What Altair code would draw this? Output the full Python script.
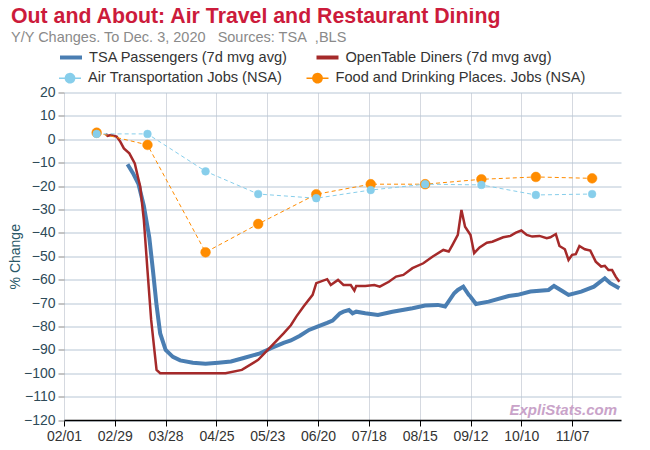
import altair as alt
import pandas as pd

FONT = "Liberation Sans"

# ---------------- data ----------------
tsa_dates = ["2020-03-07", "2020-03-10", "2020-03-13", "2020-03-16", "2020-03-19", "2020-03-21",
             "2020-03-23", "2020-03-25", "2020-03-28", "2020-04-01", "2020-04-05", "2020-04-12",
             "2020-04-19", "2020-04-26", "2020-05-03", "2020-05-10", "2020-05-19", "2020-05-26",
             "2020-06-01", "2020-06-05", "2020-06-10", "2020-06-15", "2020-06-20", "2020-06-25",
             "2020-06-28", "2020-07-02", "2020-07-04", "2020-07-07", "2020-07-09", "2020-07-11",
             "2020-07-16", "2020-07-23", "2020-07-31", "2020-08-11", "2020-08-18", "2020-08-25",
             "2020-08-29", "2020-09-03", "2020-09-05", "2020-09-08", "2020-09-11", "2020-09-12",
             "2020-09-15", "2020-09-22", "2020-10-03", "2020-10-08", "2020-10-15", "2020-10-25",
             "2020-10-28", "2020-11-02", "2020-11-05", "2020-11-12", "2020-11-19", "2020-11-25",
             "2020-11-28", "2020-12-03"]
tsa_values = [-10.7, -14.5, -19.0, -28.5, -42.0, -56.0,
              -71.0, -83.0, -90.0, -93.0, -94.5, -95.5,
              -96.0, -95.5, -95.0, -93.5, -91.5, -89.0,
              -87.0, -86.0, -84.0, -81.5, -80.0, -78.5,
              -77.5, -74.4, -73.7, -73.0, -74.4, -73.7,
              -74.4, -75.1, -73.7, -72.2, -71.1, -70.8,
              -71.5, -65.8, -64.4, -63.0, -66.5, -67.3,
              -70.4, -69.4, -67.0, -66.5, -65.1, -64.4,
              -62.7, -65.1, -66.5, -65.1, -63.0, -59.4,
              -61.5, -63.7]

ot_dates = ["2020-02-24", "2020-02-25", "2020-02-27", "2020-03-01", "2020-03-03", "2020-03-05",
            "2020-03-08", "2020-03-11", "2020-03-13", "2020-03-14", "2020-03-16", "2020-03-18",
            "2020-03-20", "2020-03-22", "2020-03-23", "2020-03-25", "2020-04-30", "2020-05-09",
            "2020-05-18", "2020-05-25", "2020-06-01", "2020-06-05", "2020-06-08", "2020-06-12",
            "2020-06-17", "2020-06-19", "2020-06-25", "2020-06-27", "2020-07-01", "2020-07-04",
            "2020-07-08", "2020-07-10", "2020-07-11", "2020-07-16", "2020-07-21", "2020-07-24",
            "2020-07-29", "2020-08-02", "2020-08-06", "2020-08-11", "2020-08-17", "2020-08-22",
            "2020-08-28", "2020-08-31", "2020-09-02", "2020-09-05", "2020-09-07", "2020-09-09",
            "2020-09-12", "2020-09-14", "2020-09-17", "2020-09-21", "2020-09-24", "2020-09-30",
            "2020-10-04", "2020-10-07", "2020-10-10", "2020-10-13", "2020-10-16", "2020-10-20",
            "2020-10-24", "2020-10-26", "2020-10-29", "2020-10-31", "2020-11-03", "2020-11-05",
            "2020-11-07", "2020-11-09", "2020-11-11", "2020-11-14", "2020-11-17", "2020-11-20",
            "2020-11-23", "2020-11-25", "2020-11-27", "2020-11-29", "2020-12-01", "2020-12-03"]
ot_values = [2.3, 1.5, 1.8, 1.2, -1.0, -3.9,
             -6.0, -10.3, -17.0, -20.2, -34.5, -56.0,
             -77.0, -91.5, -98.6, -100.0, -100.0, -98.6,
             -94.3, -88.6, -83.0, -79.5, -75.8, -71.5,
             -66.5, -61.5, -59.8, -62.3, -60.1, -62.3,
             -62.3, -64.7, -62.7, -62.7, -62.3, -63.0,
             -60.9, -58.7, -58.0, -55.1, -53.0, -50.2,
             -47.3, -48.0, -45.2, -40.9, -30.2, -37.4,
             -40.9, -48.7, -46.2, -44.2, -43.8, -41.9,
             -41.3, -39.9, -39.0, -40.9, -41.6, -41.3,
             -42.3, -41.9, -40.5, -45.6, -47.0, -51.6,
             -49.4, -49.1, -45.6, -47.0, -47.6, -52.3,
             -54.4, -54.1, -55.9, -55.9, -58.7, -60.9]

job_dates = ["2020-02-19", "2020-03-18", "2020-04-19", "2020-05-18", "2020-06-19",
             "2020-07-19", "2020-08-18", "2020-09-18", "2020-10-18", "2020-11-18"]
air_jobs = [2.3, 2.3, -13.7, -23.4, -25.2, -21.7, -19.2, -19.5, -23.8, -23.4]
food_jobs = [2.8, -2.4, -48.3, -36.2, -23.5, -19.2, -19.2, -17.1, -16.1, -16.7]

tick_dates = [(2, 1), (2, 29), (3, 28), (4, 25), (5, 23), (6, 20), (7, 18), (8, 15), (9, 12), (10, 10), (11, 7)]
y_ticks = list(range(-120, 21, 10))

S_TSA = "TSA Passengers (7d mvg avg)"
S_OT = "OpenTable Diners (7d mvg avg)"
S_AIR = "Air Transportation Jobs (NSA)"
S_FOOD = "Food and Drinking Places. Jobs (NSA)"

def frame(dates, values, name):
    return pd.DataFrame({"date": [d + "T00:00:00" for d in dates], "value": values, "series": name})

tsa_df = frame(tsa_dates, tsa_values, S_TSA)
ot_df = frame(ot_dates, ot_values, S_OT)
food_df = frame(job_dates, food_jobs, S_FOOD)
air_df = frame(job_dates, air_jobs, S_AIR)
jobs_df = pd.concat([food_df, air_df], ignore_index=True)

W, H = 557, 327.5

x_enc = alt.X("date:T",
              scale=alt.Scale(domain=[alt.DateTime(year=2020, month=2, date=1),
                                      alt.DateTime(year=2020, month=12, date=3, hours=22)]),
              axis=alt.Axis(values=[alt.DateTime(year=2020, month=m, date=d) for m, d in tick_dates],
                            format="%m/%d", title=None, labelFontSize=14, labelColor="#333333",
                            labelFont=FONT, labelFlush=False, labelOverlap=False, labelPadding=3,
                            tickSize=6, tickColor="#000000", domainColor="#000000", domainWidth=1.5,
                            gridColor="#d5d9e0", gridWidth=1))
y_enc = alt.Y("value:Q",
              scale=alt.Scale(domain=[-120, 20], nice=False, zero=False),
              axis=alt.Axis(values=y_ticks, title="% Change", titleFontSize=14, titleFont=FONT,
                            titleFontWeight="normal", titleColor="#2a5868", titleX=-42,
                            labelFontSize=14, labelFont=FONT, labelColor="#2e4a58", labelPadding=3,
                            labelFlush=False, tickSize=6, tickColor="#8a8a8a", domain=False,
                            gridColor="#b7c6d5", gridWidth=1))

LEG_FS = 14.6
line_scale = alt.Scale(domain=[S_TSA, S_OT], range=["#4a7eb2", "#a52a2a"])
line_legend = alt.Legend(title=None, orient="none", legendX=-6, legendY=-48, direction="horizontal",
                         labelFontSize=LEG_FS, labelFont=FONT, labelColor="#333333", labelLimit=400,
                         symbolSize=484, symbolStrokeWidth=4, symbolType="stroke",
                         columnPadding=20.5, labelOffset=5)

tsa = alt.Chart(tsa_df).mark_line(strokeWidth=4).encode(
    x=x_enc, y=y_enc, color=alt.Color("series:N", scale=line_scale, legend=line_legend))
ot = alt.Chart(ot_df).mark_line(strokeWidth=2.5).encode(
    x=x_enc, y=y_enc, color=alt.Color("series:N", scale=line_scale, legend=line_legend))

job_scale = alt.Scale(domain=[S_AIR, S_FOOD], range=["#87ceeb", "#ff8c00"])
job_symbol = "M-1,0L1,0M-0.42,0A0.42,0.42,0,1,0,0.42,0A0.42,0.42,0,1,0,-0.42,0Z"
job_legend = alt.Legend(title=None, orient="none", legendX=-6, legendY=-26.5, direction="horizontal",
                        labelFontSize=LEG_FS, labelFont=FONT, labelColor="#333333", labelLimit=400,
                        symbolSize=484, symbolStrokeWidth=1.5, symbolType=job_symbol,
                        columnPadding=20.5, labelOffset=6, symbolDash=[1, 0])

job_lines = alt.Chart(jobs_df).mark_line(strokeWidth=1, strokeDash=[4, 3]).encode(
    x=x_enc, y=y_enc, stroke=alt.Stroke("series:N", scale=job_scale, legend=job_legend),
    detail="series:N")

def job_points(df, size):
    return alt.Chart(df).mark_point(filled=True, opacity=1, strokeWidth=0.5, size=size).encode(
        x=x_enc, y=y_enc,
        fill=alt.Fill("series:N", scale=job_scale, legend=job_legend),
        stroke=alt.Stroke("series:N", scale=job_scale, legend=job_legend))

food_pts = job_points(food_df, 95)
air_pts = job_points(air_df, 60)

mark_df = pd.DataFrame({"t": ["ExpliStats.com"]})
watermark = alt.Chart(mark_df).mark_text(align="right", baseline="alphabetic", font=FONT,
                                         fontSize=15, fontWeight="bold", fontStyle="italic",
                                         color="#c9a3c9").encode(
    text="t:N", x=alt.value(W - 4), y=alt.value(H - 5))

chart = alt.layer(tsa, ot, job_lines, food_pts, air_pts, watermark).properties(
    width=W, height=H,
    autosize=alt.AutoSizeParams(type="none"),
    padding={"left": 56, "top": 84.5, "right": 21, "bottom": 22},
    title=alt.TitleParams(text="Out and About: Air Travel and Restaurant Dining",
                          subtitle="Y/Y Changes. To Dec. 3, 2020\u00a0\u00a0 Sources: TSA\u00a0 ,BLS",
                          anchor="start", frame="group", dx=-53, offset=0,
                          font=FONT, fontSize=21.3, fontWeight="bold", color="#cc1b3b",
                          subtitleFont=FONT, subtitleFontSize=14.5, subtitleColor="#8a8a8a",
                          subtitlePadding=4),
).configure_view(stroke=None).configure_axis(gridOpacity=1)

chart.save("out.html", embed_options={"renderer": "svg", "actions": False})
